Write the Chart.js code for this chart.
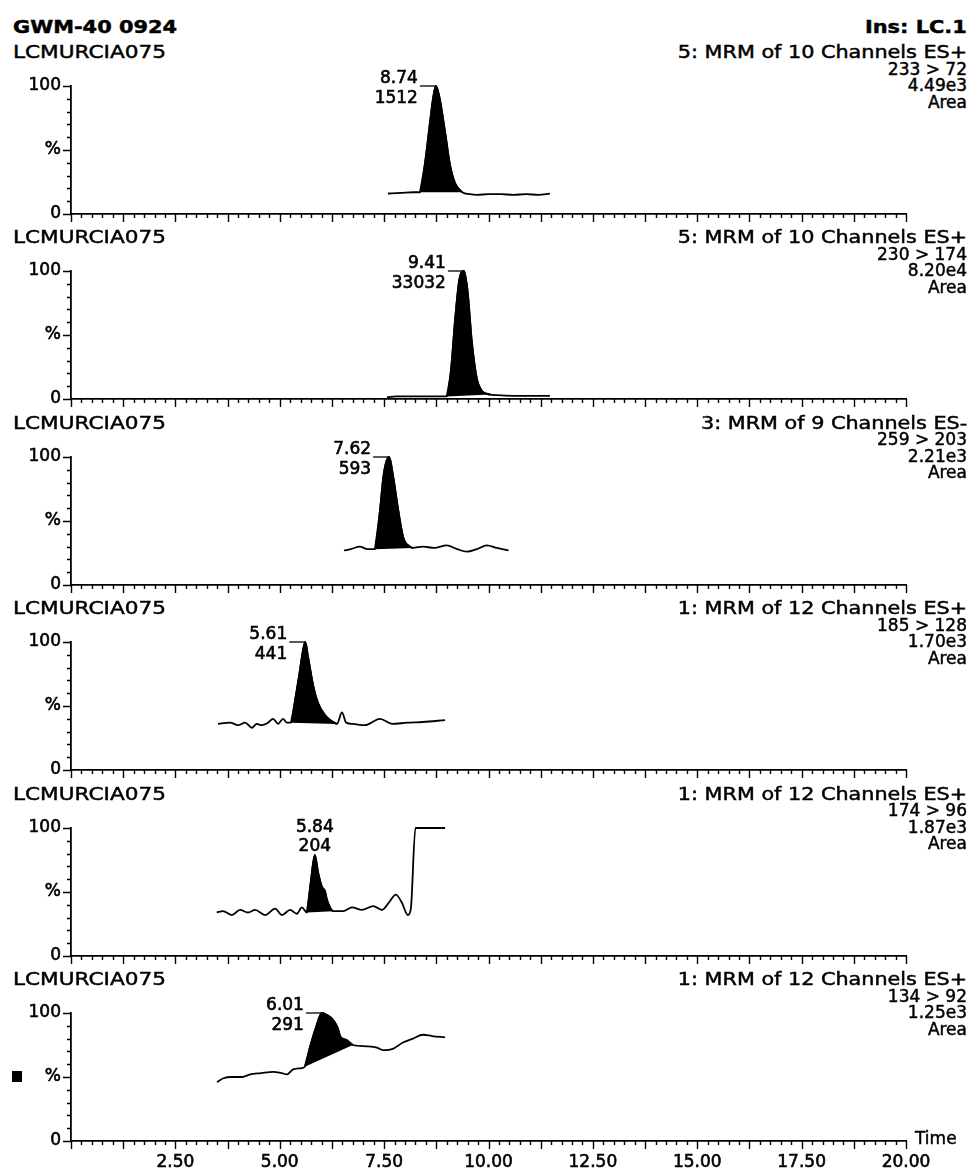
<!DOCTYPE html>
<html lang="en">
<head>
<meta charset="UTF-8">
<title>GWM-40 0924 - MRM chromatograms</title>
<style>
    body { margin: 0; background: #fff; }
    #page { position: relative; width: 980px; height: 1175px; overflow: hidden;
            font-family: "DejaVu Sans", sans-serif; color: #000; }
    #page canvas { position: absolute; left: 0; }
    .txt { position: absolute; line-height: 20px; font-size: 17px; white-space: nowrap;
           -webkit-text-stroke: 0.45px #000; }
    .right { right: 13px; text-align: right; transform-origin: right center; }
    .sample { left: 13px; font-size: 18px; transform: scaleX(1.2); transform-origin: left center; }
    .title { font-weight: bold; font-size: 18px; transform: scaleX(1.16); }
    .title.left { left: 13px; transform-origin: left center; }
    .chan { transform: scaleX(1.22); }
    .mark { position: absolute; left: 12px; width: 10px; height: 11px; background: #000; }
</style>
</head>
<body>
<div id="page">
    <div class="txt title left" style="top:17px;">GWM-40 0924</div>
    <div class="txt title right" style="top:17px;">Ins: LC.1</div>
</div>

<script src="https://cdn.jsdelivr.net/npm/chart.js"></script>
<script>
    // retention time axis (min) and intensity labels
    const timeLabels = [2.5, 5, 7.5, 10, 12.5, 15, 17.5, 20];
    const yTickValues = [0, 50, 100];
    const yTickText = ['0', '%', '100'];

    // header text of each trace
    const channelInfo = ['5: MRM of 10 Channels ES+', '5: MRM of 10 Channels ES+', '3: MRM of 9 Channels ES-',
                         '1: MRM of 12 Channels ES+', '1: MRM of 12 Channels ES+', '1: MRM of 12 Channels ES+'];
    const transitions = ['233 > 72', '230 > 174', '259 > 203', '185 > 128', '174 > 96', '134 > 92'];
    const totalIntensity = ['4.49e3', '8.20e4', '2.21e3', '1.70e3', '1.87e3', '1.25e3'];

    // integrated peaks
    const peakRT = [8.74, 9.41, 7.62, 5.61, 5.84, 6.01];
    const peakArea = [1512, 33032, 593, 441, 204, 291];
    const baseStartTime = [8.36, 9.00, 7.28, 5.27, 5.65, 5.60];
    const baseStartLevel = [17, 2, 28, 37, 34, 58];
    const baseEndTime = [9.37, 10.04, 8.19, 6.37, 6.27, 6.75];
    const baseEndLevel = [17, 3.5, 29, 36, 35, 75];

    // traces (time in min, relative intensity in %)
    const time1 = [7.59, 7.9, 8.2, 8.36, 8.48, 8.60, 8.68, 8.74, 8.82, 8.96, 9.08, 9.20, 9.37, 9.55, 9.73, 10.0, 10.3, 10.6, 10.9, 11.2, 11.47];
    const pct1  = [16, 16.5, 17, 17, 40, 72, 92, 100, 92, 64, 38, 24, 17, 15.5, 15, 15.5, 15.5, 15, 15.5, 15, 16];

    const time2 = [7.57, 7.8, 8.2, 8.6, 9.00, 9.10, 9.20, 9.30, 9.41, 9.50, 9.60, 9.72, 9.85, 10.04, 10.2, 10.6, 11.0, 11.47];
    const pct2  = [1.5, 2, 2, 2, 2, 22, 62, 93, 100, 84, 45, 16, 6, 3.5, 3, 2.5, 2.5, 2.5];

    const time3 = [6.54, 6.70, 6.92, 7.10, 7.28, 7.40, 7.48, 7.55, 7.62, 7.72, 7.84, 7.96, 8.12, 8.19, 8.43, 8.70, 9.00, 9.25, 9.48, 9.72, 9.96, 10.20, 10.48];
    const pct3  = [27, 28, 30, 28, 28, 58, 84, 96, 100, 84, 58, 37, 30, 29, 30, 29, 31, 28, 26, 28, 31, 29, 27];

    const time4 = [3.52, 3.81, 4.00, 4.17, 4.33, 4.45, 4.57, 4.72, 4.84, 4.96, 5.08, 5.17, 5.27, 5.37, 5.46, 5.56, 5.61, 5.68, 5.80, 5.92, 6.08, 6.25, 6.37, 6.49, 6.59, 6.75, 7.04, 7.40, 7.69, 8.05, 8.43, 8.96];
    const pct4  = [36, 37, 35, 37, 33, 36, 35, 37, 40, 36, 40, 37, 37, 55, 73, 94, 100, 88, 66, 52, 43, 38, 36, 45, 37, 36, 35, 40, 36, 37, 37.5, 39];

    const time5 = [3.49, 3.64, 3.85, 4.05, 4.24, 4.41, 4.65, 4.89, 5.05, 5.25, 5.41, 5.53, 5.65, 5.74, 5.84, 5.92, 6.01, 6.08, 6.13, 6.22, 6.27, 6.52, 6.73, 6.97, 7.24, 7.45, 7.62, 7.78, 7.92, 8.07, 8.14, 8.25, 8.96];
    const pct5  = [34, 35, 32, 36, 34, 36, 32, 37, 32, 36, 33, 38, 34, 57, 79, 65, 54, 51, 44, 37, 35, 35, 38, 36, 39, 36, 42, 48, 42, 32, 37, 100, 100];

    const time6 = [3.50, 3.65, 3.85, 4.10, 4.29, 4.55, 4.84, 5.05, 5.17, 5.32, 5.53, 5.60, 5.73, 5.87, 6.01, 6.10, 6.24, 6.38, 6.46, 6.59, 6.75, 7.09, 7.33, 7.47, 7.71, 7.95, 8.19, 8.43, 8.65, 8.96];
    const pct6  = [46, 49, 50, 50, 52, 53, 54, 53, 52, 56, 57, 58, 74, 89, 100, 99, 96, 89, 81, 79, 75, 74, 73, 71, 72, 77, 80, 83, 82, 81];

    const traceTimes = [time1, time2, time3, time4, time5, time6];
    const tracePct = [pct1, pct2, pct3, pct4, pct5, pct6];

    const minorStep = 0.25;   // x minor ticks, every 5th is long
    const labelAbove = [false, false, false, false, true, false];

    // layout of the stacked panels
    const panelGap = 185.4;
    const firstZero = 214;
    const plotH = 128;

    // small ticks under the time axis and left of the % axis
    const axisTicks = {
        id: 'axisTicks',
        afterDraw(chart) {
            const { ctx, chartArea, scales: { x, y } } = chart;
            ctx.save();
            ctx.strokeStyle = '#000';
            ctx.lineWidth = 1.4;
            ctx.beginPath();
            for (let i = 0; i * minorStep <= 20; i++) {
                const px = Math.round(x.getPixelForValue(i * minorStep)) + 0.5;
                ctx.moveTo(px, chartArea.bottom);
                ctx.lineTo(px, chartArea.bottom + (i % 5 === 0 ? 8 : 4));
            }
            for (let v = 0; v <= 100; v += 10) {
                const py = Math.round(y.getPixelForValue(v)) + 0.5;
                ctx.moveTo(chartArea.left, py);
                ctx.lineTo(chartArea.left - (v % 50 === 0 ? 8 : 4), py);
            }
            ctx.stroke();
            ctx.restore();
        }
    };

    // retention time / area annotation at the peak apex
    const peakLabels = {
        id: 'peakLabels',
        afterDatasetsDraw(chart, args, opts) {
            const { ctx, scales: { x, y } } = chart;
            const px = x.getPixelForValue(opts.time);
            const py = y.getPixelForValue(opts.level);
            const rows = [opts.time.toFixed(2), String(opts.area)];
            ctx.save();
            ctx.fillStyle = '#000';
            ctx.strokeStyle = '#000';
            ctx.font = '17px "DejaVu Sans"';
            ctx.textBaseline = 'middle';
            let tx, ty;
            if (opts.above) {
                ctx.textAlign = 'center';
                tx = px; ty = [py - 27, py - 8];
            } else {
                ctx.textAlign = 'right';
                tx = px - 18; ty = [py - 7, py + 13];
                ctx.lineWidth = 1.3;
                ctx.beginPath();
                ctx.moveTo(px - 16, py);
                ctx.lineTo(px, py);
                ctx.stroke();
            }
            ctx.lineWidth = 0.6;
            rows.forEach((s, i) => {
                ctx.fillText(s, tx, ty[i]);
                ctx.strokeText(s, tx, ty[i]);
            });
            ctx.restore();
        }
    };

    const page = document.getElementById('page');

    function addText(cls, text, centerY) {
        const d = document.createElement('div');
        d.className = 'txt ' + cls;
        d.style.top = (centerY - 10) + 'px';
        d.textContent = text;
        page.appendChild(d);
    }

    const tickFont = { family: 'DejaVu Sans', size: 17 };

    for (let k = 0; k < 6; k++) {
        const zeroY = firstZero + panelGap * k;
        const last = k === 5;
        const bottomH = last ? 34 : 20;
        const labelY = zeroY - 162;

        addText('sample', 'LCMURCIA075', labelY);
        addText('right chan', channelInfo[k], labelY);
        addText('right', transitions[k], labelY + 16.5);
        addText('right', totalIntensity[k], labelY + 33);
        addText('right', 'Area', labelY + 49.5);

        const canvas = document.createElement('canvas');
        canvas.width = 980;
        canvas.height = plotH + 20 + bottomH;
        canvas.style.top = Math.round(zeroY - plotH - 20) + 'px';
        page.appendChild(canvas);

        const t = traceTimes[k];
        const p = tracePct[k];
        const trace = t.map((v, i) => ({ x: v, y: p[i] }));
        const peak = trace.filter(pt => pt.x >= baseStartTime[k] && pt.x <= baseEndTime[k]);
        const baseline = [{ x: baseStartTime[k], y: baseStartLevel[k] }, { x: baseEndTime[k], y: baseEndLevel[k] }];
        const apexLevel = p[t.indexOf(peakRT[k])];

        new Chart(canvas.getContext('2d'), {
            type: 'line',
            data: {
                datasets: [
                    { data: trace, borderColor: '#000', borderWidth: 1.8, pointRadius: 0, fill: false,
                      cubicInterpolationMode: 'monotone', clip: false },
                    { data: peak, borderColor: '#000', borderWidth: 1.8, pointRadius: 0, backgroundColor: '#000',
                      fill: '+1', cubicInterpolationMode: 'monotone', clip: false },
                    { data: baseline, borderColor: 'rgba(0,0,0,0)', borderWidth: 0, pointRadius: 0, fill: false }
                ]
            },
            options: {
                responsive: false,
                animation: false,
                layout: { padding: { top: 20, right: 74, left: 0, bottom: 0 } },
                plugins: {
                    legend: { display: false },
                    tooltip: { enabled: false },
                    peakLabels: { time: peakRT[k], level: apexLevel, area: peakArea[k], above: labelAbove[k] }
                },
                scales: {
                    x: {
                        type: 'linear', min: 0, max: 20,
                        afterFit: s => { s.height = bottomH; },
                        afterBuildTicks: s => { s.ticks = timeLabels.map(v => ({ value: v })); },
                        grid: { display: true, drawOnChartArea: false, drawTicks: true, tickLength: 8, color: 'rgba(0,0,0,0)' },
                        border: { display: true, color: '#000', width: 1.8 },
                        ticks: { display: last, autoSkip: false, maxRotation: 0, padding: 3, color: '#000',
                                 font: tickFont, textStrokeColor: '#000', textStrokeWidth: 0.6,
                                 callback: v => v.toFixed(2) }
                    },
                    y: {
                        min: 0, max: 100,
                        afterFit: s => { s.width = 71; },
                        afterBuildTicks: s => { s.ticks = yTickValues.map(v => ({ value: v })); },
                        grid: { display: true, drawOnChartArea: false, drawTicks: true, tickLength: 8, color: 'rgba(0,0,0,0)' },
                        border: { display: true, color: '#000', width: 1.8 },
                        ticks: { padding: 2, color: '#000', font: tickFont, textStrokeColor: '#000', textStrokeWidth: 0.6,
                                 callback: v => yTickText[yTickValues.indexOf(v)] }
                    }
                }
            },
            plugins: [axisTicks, peakLabels]
        });
    }

    // bottom axis title and the small marker on the last trace
    const timeTitle = document.createElement('div');
    timeTitle.className = 'txt';
    timeTitle.style.left = '915px';
    timeTitle.style.top = (firstZero + panelGap * 5 - 13) + 'px';
    timeTitle.textContent = 'Time';
    page.appendChild(timeTitle);

    const mark = document.createElement('div');
    mark.className = 'mark';
    mark.style.top = (firstZero + panelGap * 5 - plotH / 2 - 6) + 'px';
    page.appendChild(mark);
</script>
</body>
</html>
